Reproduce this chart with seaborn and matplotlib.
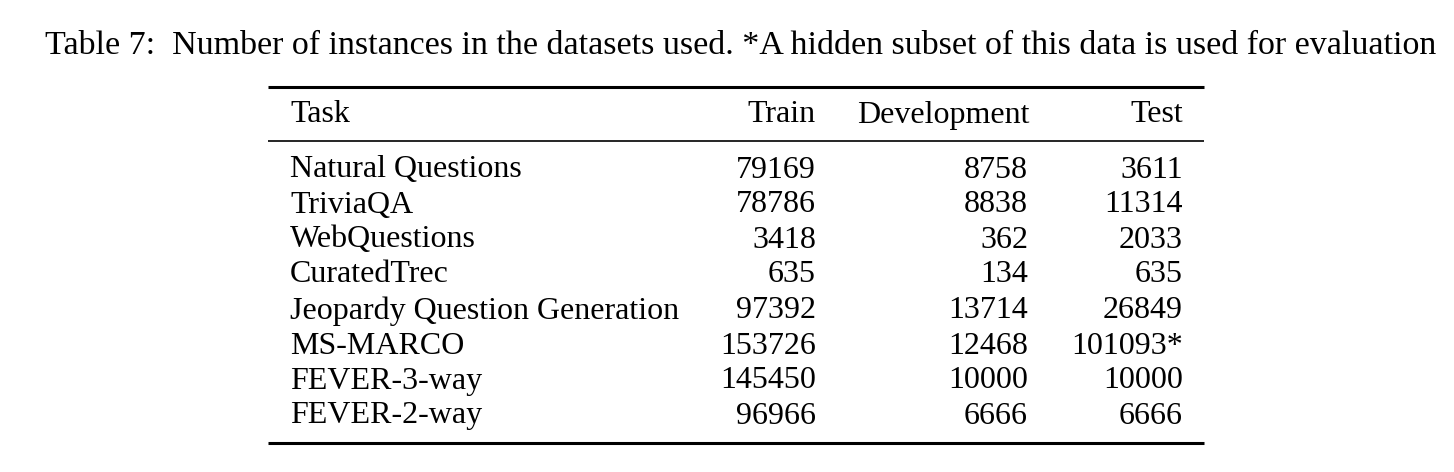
import matplotlib
matplotlib.use("Agg")
import matplotlib.pyplot as plt
import seaborn as sns

tasks = ["Natural Questions", "TriviaQA", "WebQuestions", "CuratedTrec",
         "Jeopardy Question Generation", "MS-MARCO", "FEVER-3-way", "FEVER-2-way"]
train = ["79169", "78786", "3418", "635", "97392", "153726", "145450", "96966"]
dev = ["8758", "8838", "362", "134", "13714", "12468", "10000", "6666"]
test = ["3611", "11314", "2033", "635", "26849", "101093*", "10000", "6666"]
headers = ["Task", "Train", "Development", "Test"]
caption = "Table 7:  Number of instances in the datasets used. *A hidden subset of this data is used for evaluation"

sns.set_theme(style="white")
plt.rcParams['font.family'] = ['Liberation Serif', 'DejaVu Serif']
plt.rcParams['text.color'] = 'black'

fig = plt.figure(figsize=(14.54, 4.72), dpi=100)
ax = fig.add_axes([0, 0, 1, 1])
ax.set_xlim(0, 1454)
ax.set_ylim(472, 0)
ax.axis("off")

fs = 23
ax.text(741, 46, caption, ha="center", va="center", fontsize=24.5)

ax.hlines(87, 268, 1204, color="black", linewidth=2.2)
ax.hlines(141, 268, 1204, color="black", linewidth=1.2)
ax.hlines(443, 268, 1204, color="black", linewidth=2.2)

hy = 115
ax.text(290, hy, headers[0], ha="left", va="center", fontsize=fs)
ax.text(816, hy, headers[1], ha="right", va="center", fontsize=fs)
ax.text(943, hy, headers[2], ha="center", va="center", fontsize=fs)
ax.text(1183, hy, headers[3], ha="right", va="center", fontsize=fs)

row_y = [170, 205, 240, 275, 311, 346, 381, 416]
for y, t, a, b, c in zip(row_y, tasks, train, dev, test):
    ax.text(290, y, t, ha="left", va="center", fontsize=fs)
    ax.text(816, y, a, ha="right", va="center", fontsize=fs)
    ax.text(1028, y, b, ha="right", va="center", fontsize=fs)
    ax.text(1183, y, c, ha="right", va="center", fontsize=fs)

fig.savefig("out.png", dpi=100, facecolor="white")
